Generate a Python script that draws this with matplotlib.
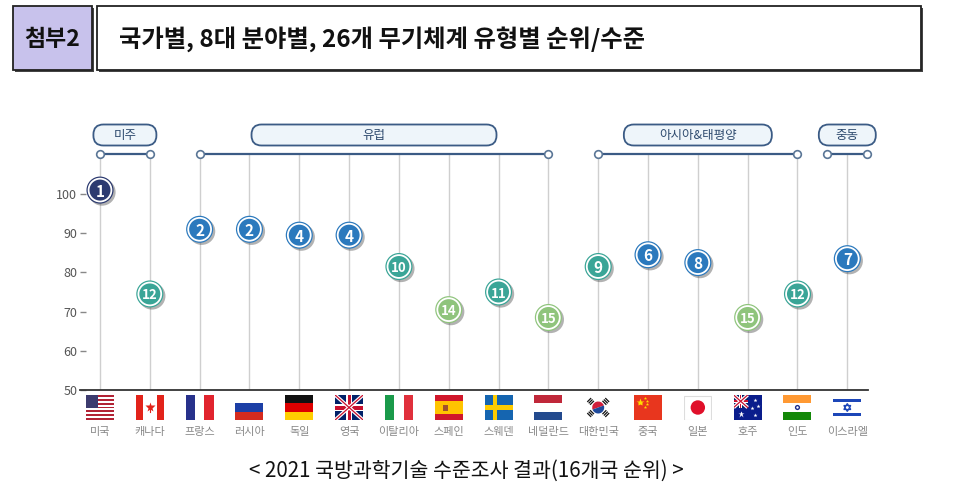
import matplotlib
matplotlib.use("Agg")
import matplotlib.pyplot as plt
import matplotlib.patheffects as pe
from matplotlib.patches import Rectangle, FancyBboxPatch, Circle, Wedge, Polygon

plt.rcParams['font.family'] = ['Noto Sans CJK KR', 'DejaVu Sans']

# data
countries = ['미국', '캐나다', '프랑스', '러시아', '독일', '영국', '이탈리아', '스페인',
             '스웨덴', '네덜란드', '대한민국', '중국', '일본', '호주', '인도', '이스라엘']
flags = ['us', 'ca', 'fr', 'ru', 'de', 'gb', 'it', 'es',
         'se', 'nl', 'kr', 'cn', 'jp', 'au', 'in', 'il']
levels = [101, 74.5, 91, 91, 89.5, 89.5, 81.5, 70.5, 75, 68.5, 81.5, 84.5, 82.5, 68.5, 74.5, 83.5]
ranks = [1, 12, 2, 2, 4, 4, 10, 14, 11, 15, 9, 6, 8, 15, 12, 7]
yticks = [50, 60, 70, 80, 90, 100]

regions = ['미주', '유럽', '아시아&태평양', '중동']
region_first = [0, 2, 10, 15]
region_last = [1, 9, 14, 15]

title_tag = '첨부2'
title = '국가별, 8대 분야별, 26개 무기체계 유형별 순위/수준'
caption = '< 2021 국방과학기술 수준조사 결과(16개국 순위) >'

# layout (pixels)
W_PX, H_PX = 965, 494
X0, DX = 100, 49.82          # first country centre, spacing
AX_L, AX_R = 80, 868
Y50, PPU = 390, 3.92         # pixel row of 50, pixels per unit
AX_T = 154
box_w_px = [63, 245, 148, 57]

def yv(p):
    return 50 - (p - Y50) / PPU

fig = plt.figure(figsize=(W_PX / 100, H_PX / 100), dpi=100)

# background / header layer in pixel coords
bg = fig.add_axes([0, 0, 1, 1], zorder=-1)
bg.set_xlim(0, W_PX)
bg.set_ylim(H_PX, 0)
bg.axis('off')

bg.add_patch(Rectangle((15, 8), 79, 64, fc='#444444', ec='none'))
bg.add_patch(Rectangle((13, 6), 79, 64, fc='#c8c2ec', ec='#222222', lw=1.3))
bg.add_patch(Rectangle((99, 8), 824, 64, fc='#444444', ec='none'))
bg.add_patch(Rectangle((97, 6), 824, 64, fc='white', ec='#222222', lw=1.3))
bg.text(52.5, 39, title_tag, fontsize=16.5, fontweight='bold', ha='center', va='center', color='#111111')
bg.text(119, 39, title, fontsize=17.5, fontweight='bold', ha='left', va='center', color='#111111')
bg.text(466, 471, caption, fontsize=14.8, ha='center', va='center', color='#111111')

# chart
ax = fig.add_axes([AX_L / W_PX, (H_PX - Y50) / H_PX, (AX_R - AX_L) / W_PX, (Y50 - AX_T) / H_PX])
ax.patch.set_alpha(0)
ax.set_xlim((AX_L - X0) / DX, (AX_R - X0) / DX)
ytop = 50 + (Y50 - AX_T) / PPU
ax.set_ylim(50, ytop)
for s in ['left', 'right', 'top']:
    ax.spines[s].set_visible(False)
ax.spines['bottom'].set_color('#333333')
ax.spines['bottom'].set_linewidth(1.3)
ax.set_xticks([])
ax.set_yticks(yticks)
ax.tick_params(axis='y', direction='in', length=4.5, width=1, color='#888888',
               labelsize=9, labelcolor='#555555', pad=2)

xs = list(range(len(countries)))
ax.vlines(xs, 50, ytop, color='#cfcfcf', lw=1, zorder=1)

def rank_color(r):
    if r == 1:
        return '#2c3a70'
    if r <= 8:
        return '#2b79bd'
    if r <= 12:
        return '#3aa597'
    return '#8fc47c'

cols = [rank_color(r) for r in ranks]
shadow = [pe.SimplePatchShadow(offset=(1.5, -1.5), shadow_rgbFace='#555555', alpha=0.45), pe.Normal()]
ax.scatter(xs, levels, s=380, c=cols, edgecolors='none', zorder=4, clip_on=False, path_effects=shadow)
ax.scatter(xs, levels, s=270, c=cols, edgecolors='white', linewidths=1.3, zorder=5, clip_on=False)
for x, v, r in zip(xs, levels, ranks):
    ax.text(x, v, str(r), ha='center', va='center_baseline', color='white',
            fontsize=11 if r < 10 else 9.5, fontweight='bold', zorder=6)

# region brackets and labels
bracket_c = '#3b5b85'
ybox = yv(135)
hbox = 21 / PPU
for name, a, b, wpx in zip(regions, region_first, region_last, box_w_px):
    x1, x2 = (a, b) if a != b else (a - 0.4, b + 0.4)
    ax.plot([x1, x2], [ytop, ytop], color=bracket_c, lw=1.6, clip_on=False, zorder=3)
    ax.plot([x1, x2], [ytop, ytop], 'o', ms=5.5, mfc='white', mec='#5a7696', mew=1.2,
            clip_on=False, zorder=4)
    cx = (a + b) / 2
    w = wpx / DX
    ax.add_patch(FancyBboxPatch((cx - w / 2, ybox - hbox / 2), w, hbox,
                                boxstyle='round,pad=0,rounding_size=0.2',
                                mutation_aspect=DX / PPU, fc='#eef5fa', ec=bracket_c,
                                lw=1.3, clip_on=False, zorder=3))
    ax.text(cx, ybox, name, ha='center', va='center', fontsize=9, color='#2d4a6e', zorder=4)

# flags
FW, FH = 28, 25

def rects(f, parts):
    for (x, y, w, h, c) in parts:
        f.add_patch(Rectangle((x, y), w, h, fc=c, ec='none'))

def union(f, x0, y0, w, h):
    rects(f, [(x0, y0, w, h, '#012169')])
    f.plot([x0, x0 + w], [y0, y0 + h], color='white', lw=2.6, solid_capstyle='butt')
    f.plot([x0, x0 + w], [y0 + h, y0], color='white', lw=2.6, solid_capstyle='butt')
    f.plot([x0, x0 + w], [y0, y0 + h], color='#c8102e', lw=0.9)
    f.plot([x0, x0 + w], [y0 + h, y0], color='#c8102e', lw=0.9)
    rects(f, [(x0, y0 + h * 0.36, w, h * 0.28, 'white'), (x0 + w * 0.4, y0, w * 0.2, h, 'white'),
              (x0, y0 + h * 0.42, w, h * 0.16, '#c8102e'), (x0 + w * 0.45, y0, w * 0.1, h, '#c8102e')])

def draw_flag(f, code):
    if code == 'us':
        for k in range(13):
            rects(f, [(0, FH - (k + 1) * FH / 13, FW, FH / 13, '#b22234' if k % 2 == 0 else 'white')])
        rects(f, [(0, FH - 7 * FH / 13, FW * 0.42, 7 * FH / 13, '#3c3b6e')])
    elif code == 'ca':
        rects(f, [(0, 0, FW, FH, 'white'), (0, 0, FW / 4, FH, '#e2231a'), (FW * 0.75, 0, FW / 4, FH, '#e2231a')])
        f.plot(FW / 2, FH / 2 + 1, marker='*', ms=7, color='#e2231a', mec='none')
        f.plot([FW / 2, FW / 2], [FH / 2 - 4, FH / 2], color='#e2231a', lw=0.8)
    elif code == 'fr':
        rects(f, [(0, 0, FW / 3, FH, '#27318b'), (FW / 3, 0, FW / 3, FH, 'white'), (2 * FW / 3, 0, FW / 3, FH, '#e1242e')])
    elif code == 'ru':
        rects(f, [(0, 2 * FH / 3, FW, FH / 3, 'white'), (0, FH / 3, FW, FH / 3, '#1c3fa6'), (0, 0, FW, FH / 3, '#d52b1e')])
    elif code == 'de':
        rects(f, [(0, 2 * FH / 3, FW, FH / 3, '#111111'), (0, FH / 3, FW, FH / 3, '#dd0000'), (0, 0, FW, FH / 3, '#ffce00')])
    elif code == 'gb':
        union(f, 0, 0, FW, FH)
    elif code == 'it':
        rects(f, [(0, 0, FW / 3, FH, '#1a9a4a'), (FW / 3, 0, FW / 3, FH, 'white'), (2 * FW / 3, 0, FW / 3, FH, '#e0303c')])
    elif code == 'es':
        rects(f, [(0, 0, FW, FH, '#d0172b'), (0, FH / 4, FW, FH / 2, '#ffc400'), (FW * 0.28, FH * 0.36, 5, 6, '#a0522d')])
    elif code == 'se':
        rects(f, [(0, 0, FW, FH, '#1565b0'), (FW * 0.3, 0, FW * 0.15, FH, '#fecc00'), (0, FH * 0.4, FW, FH * 0.2, '#fecc00')])
    elif code == 'nl':
        rects(f, [(0, 2 * FH / 3, FW, FH / 3, '#c0283a'), (0, FH / 3, FW, FH / 3, 'white'), (0, 0, FW, FH / 3, '#234a8e')])
    elif code == 'kr':
        rects(f, [(0, 0, FW, FH, 'white')])
        f.add_patch(Wedge((FW / 2, FH / 2), 6, 20, 200, fc='#d21f3c', ec='none'))
        f.add_patch(Wedge((FW / 2, FH / 2), 6, 200, 380, fc='#1f4a9c', ec='none'))
        for (x, y, dx, dy) in [(5, 20, 1, -1), (23, 20, -1, -1), (5, 5, 1, 1), (23, 5, -1, 1)]:
            for t in (0, 1.4, 2.8):
                f.plot([x + dx * t - 1.5, x + dx * t + 1.5],
                       [y + dy * t + 1.5 * dx * dy, y + dy * t - 1.5 * dx * dy], color='#111111', lw=0.9)
    elif code == 'cn':
        rects(f, [(0, 0, FW, FH, '#e8361e')])
        f.plot(6, 18, marker='*', ms=6, color='#ffde00', mec='none')
        for (x, y) in [(11, 22), (13, 19.5), (13, 16), (11, 13.5)]:
            f.plot(x, y, marker='*', ms=2.5, color='#ffde00', mec='none')
    elif code == 'jp':
        f.add_patch(Rectangle((0.5, 0.5), FW - 1, FH - 1, fc='white', ec='#dddddd', lw=0.8))
        f.add_patch(Circle((FW / 2, FH / 2), 7.2, fc='#e0102a', ec='none'))
    elif code == 'au':
        rects(f, [(0, 0, FW, FH, '#0a1d8c')])
        union(f, 0, FH / 2, FW / 2, FH / 2)
        f.plot(7, 6, marker='*', ms=5, color='white', mec='none')
        for (x, y) in [(21, 20), (24, 14), (18, 12), (21, 5)]:
            f.plot(x, y, marker='*', ms=3, color='white', mec='none')
    elif code == 'in':
        rects(f, [(0, 2 * FH / 3, FW, FH / 3, '#ff9933'), (0, FH / 3, FW, FH / 3, 'white'), (0, 0, FW, FH / 3, '#138808')])
        f.add_patch(Circle((FW / 2, FH / 2), 2.6, fc='#1a2a8a', ec='none'))
        f.add_patch(Circle((FW / 2, FH / 2), 1.2, fc='white', ec='none'))
    elif code == 'il':
        rects(f, [(0, 0, FW, FH, 'white'), (0, FH * 0.72, FW, FH * 0.13, '#1c46b8'), (0, FH * 0.15, FW, FH * 0.13, '#1c46b8')])
        cx, cy, r = FW / 2, FH / 2, 4
        f.add_patch(Polygon([(cx, cy + r), (cx - 0.87 * r, cy - r / 2), (cx + 0.87 * r, cy - r / 2)],
                            closed=True, fc='none', ec='#1c46b8', lw=0.9))
        f.add_patch(Polygon([(cx, cy - r), (cx - 0.87 * r, cy + r / 2), (cx + 0.87 * r, cy + r / 2)],
                            closed=True, fc='none', ec='#1c46b8', lw=0.9))

fw = FW / DX
fh = FH / PPU
fy = yv(420)
for x, code, name in zip(xs, flags, countries):
    fax = ax.inset_axes([x - fw / 2, fy, fw, fh], transform=ax.transData)
    fax.set_xlim(0, FW)
    fax.set_ylim(0, FH)
    fax.axis('off')
    draw_flag(fax, code)
    ax.text(x, yv(432), name, ha='center', va='center', fontsize=8, color='#888888', clip_on=False)

fig.savefig('out.png', dpi=100)
